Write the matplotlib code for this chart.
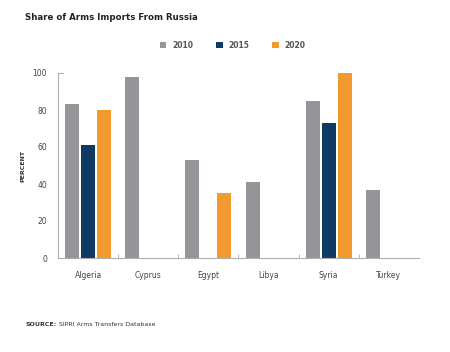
import numpy as np
import matplotlib.pyplot as plt

# Дані
countries = ['Algeria', 'Cyprus', 'Egypt', 'Libya', 'Syria', 'Turkey']
years = ['2010', '2015', '2020']
share_2010 = [83, 98, 53, 41, 85, 37]
share_2015 = [61, 0, 0, 0, 73, 0]
share_2020 = [80, 0, 35, 0, 100, 0]
colors = ['#939598', '#0e3a63', '#f29a30']

fig = plt.figure(figsize=(4.5, 3.52), dpi=100)
ax = fig.add_axes([58 / 450, 1 - 258 / 352, 361 / 450, 185 / 352])

x = np.arange(len(countries))
w = 0.233
for i, (vals, c, lab) in enumerate(zip([share_2010, share_2015, share_2020], colors, years)):
    ax.bar(x + (i - 1) * 0.267, vals, width=w, color=c, label=lab)

ax.set_xlim(-0.5, len(countries) - 0.5)
ax.set_ylim(0, 100)
ax.set_xticks(x)
ax.set_xticklabels(countries, fontsize=5.5, color='#444444')
ax.set_xticks(np.arange(0.5, len(countries) - 0.5, 1), minor=True)
ax.tick_params(axis='x', which='major', length=0, pad=9)
ax.tick_params(axis='x', which='minor', direction='in', length=3, color='#aaaaaa', width=0.6)
ax.set_yticks([0, 20, 40, 60, 80, 100])
ax.tick_params(axis='y', length=0, pad=8, labelsize=5.5, labelcolor='#444444')
ax.set_ylabel('PERCENT', fontsize=4.5, fontweight='bold', color='#333333', labelpad=5)

for s in ['top', 'right']:
    ax.spines[s].set_visible(False)
for s in ['left', 'bottom']:
    ax.spines[s].set_color('#b0b0b0')
    ax.spines[s].set_linewidth(0.8)
# маленька засічка вгорі осі Y
ax.plot([0, 0.015], [100, 100], transform=ax.get_yaxis_transform(), color='#b0b0b0', lw=0.8, clip_on=False)

fig.text(25 / 450, 1 - 18 / 352, 'Share of Arms Imports From Russia', fontsize=6.2, fontweight='bold',
         color='#222222', va='center')
leg = fig.legend(loc='center', bbox_to_anchor=(233 / 450, 1 - 45 / 352), ncol=3, frameon=False,
                 prop={'size': 5.5, 'weight': 'bold'}, handlelength=0.8, handleheight=0.8,
                 columnspacing=3, handletextpad=0.8)
for t in leg.get_texts():
    t.set_color('#555555')

# Джерело
src = fig.text(25 / 450, 1 - 325 / 352, 'SOURCE:', fontsize=4.5, fontweight='bold', color='#333333', va='center')
fig.add_artist(plt.Annotation('SIPRI Arms Transfers Database', xy=(1, 0.5), xycoords=src,
                              xytext=(2, 0), textcoords='offset points', va='center',
                              fontsize=4.5, color='#333333'))

fig.savefig('out.png', dpi=100)
